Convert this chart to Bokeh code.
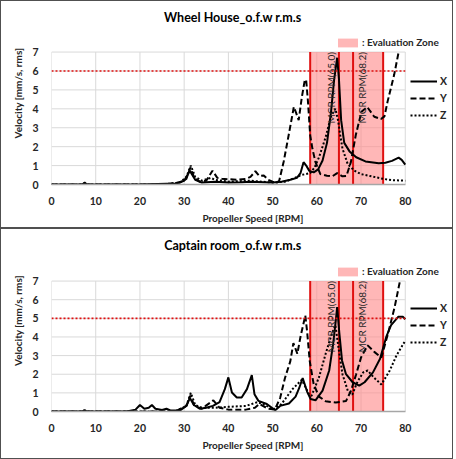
from bokeh.plotting import figure
from bokeh.models import Range1d, Label, Legend, LegendItem, FixedTicker
from bokeh.layouts import column
from bokeh.embed import file_html
from bokeh.resources import INLINE

# ---------------- data ----------------
RPM_TICKS = [0, 10, 20, 30, 40, 50, 60, 70, 80]
VEL_TICKS = [0, 1, 2, 3, 4, 5, 6, 7]
ZONE = [58.5, 75.0]
MCR = [65.0, 68.2]
MCR_LABELS = ["MCR RPM(65.0)", "MCR RPM(68.2)"]
TITLES = ["Wheel House_o.f.w r.m.s", "Captain room_o.f.w r.m.s"]
LIMITS = [6.0, 5.0]
SERIES = ["X", "Y", "Z"]
ZONE_LABEL = ": Evaluation Zone"

# Wheel House
wh_x_rpm = [0, 7, 7.5, 8, 20, 28, 30, 31.3, 32.5, 34, 37, 40, 43, 45, 48, 50, 52, 54, 55.5, 56.3,
            57, 57.6, 58.3, 59.3, 60.3, 61.3, 62.3, 63.2, 63.9, 64.6, 65.0, 65.5, 66.2, 67.4, 68.9,
            71, 74, 75.5, 77, 78.5, 79.2, 80]
wh_x_vel = [0, 0, 0.1, 0, 0, 0.05, 0.2, 0.72, 0.25, 0.1, 0.15, 0.1, 0.12, 0.15, 0.12, 0.1, 0.15, 0.25, 0.35, 0.6,
            1.18, 1.0, 0.72, 0.64, 0.8, 1.27, 2.2, 3.8, 5.5, 6.7, 5.6, 3.4, 2.2, 1.75, 1.44,
            1.22, 1.12, 1.15, 1.25, 1.42, 1.3, 1.05]
wh_y_rpm = [0, 7, 7.5, 8, 25, 29, 30.5, 31.4, 32.3, 33.5, 35, 36.4, 37.5, 38.5, 40, 42, 44, 45, 46.1, 47,
            48, 49, 50, 51, 51.5, 52.5, 53.7, 54.8, 55.3, 55.9, 56.6, 57.3, 57.6, 58, 58.5, 59, 59.7,
            60.8, 62.3, 63.5, 64.6, 65.8, 66.7, 67.7, 68.8, 70.1, 71.4, 72, 73, 74.5, 75.3, 76, 77.5,
            78.5]
wh_y_vel = [0, 0, 0.08, 0, 0, 0.1, 0.3, 0.9, 0.35, 0.15, 0.2, 0.73, 0.35, 0.3, 0.28, 0.25, 0.3, 0.4, 0.7, 0.45,
            0.48, 0.25, 0.15, 0.1, 0.2, 1.2, 2.69, 4.1, 3.8, 3.4, 4.6, 5.54, 5.5, 4.38, 2.6, 1.9, 1.18,
            0.55, 0.46, 0.43, 0.6, 0.43, 0.45, 1.18, 2.6, 3.85, 4.1, 3.9, 3.58, 3.46, 3.6, 4.38, 5.81,
            7.0]
wh_z_rpm = [0, 25, 29, 30.5, 31.5, 32.5, 34, 36, 37, 40, 45, 50, 53, 55, 56.5, 57.4, 58.5, 59.5, 60.5,
            62, 63.2, 64.2, 64.8, 65.3, 65.8, 67, 68.5, 70, 72, 75, 77, 80]
wh_z_vel = [0, 0, 0.1, 0.4, 1.0, 0.4, 0.2, 0.35, 0.25, 0.15, 0.2, 0.1, 0.15, 0.35, 0.5, 0.55, 0.6, 0.9, 1.44,
            2.5, 3.6, 4.0, 3.4, 2.6, 1.9, 1.07, 0.73, 0.55, 0.45, 0.3, 0.23, 0.2]

# Captain room
cr_x_rpm = [0, 7, 7.5, 8, 17, 19, 20, 21, 22, 22.7, 23.5, 25, 26, 27, 29, 30.5, 31.3, 32.2, 33.5, 35,
            36.5, 38, 39.2, 40, 40.8, 41.9, 43, 44.2, 45.3, 45.9, 46.8, 48.7, 50.6, 51.7, 53.7, 55.2,
            56, 56.8, 57.8, 58.6, 59.7, 61.3, 62.8, 63.7, 64.3, 64.6, 65.1, 65.7, 66.6, 68.1, 69.6,
            70.8, 72.7, 74.3, 75.7, 76.8, 78.4, 79.5, 80]
cr_x_vel = [0, 0, 0.08, 0, 0, 0.1, 0.35, 0.15, 0.2, 0.35, 0.15, 0.08, 0.15, 0.05, 0.05, 0.3, 0.72, 0.35, 0.15, 0.2,
            0.3, 0.5, 1.2, 1.83, 1.02, 0.75, 0.75, 1.2, 1.95, 0.93, 0.57, 0.4, 0.07, 0.3, 0.43, 0.8,
            1.25, 1.8, 1.07, 0.67, 0.6, 1.12, 2.2, 3.64, 4.9, 5.6, 4.2, 2.74, 2.0, 1.57, 1.39,
            1.57, 2.1, 2.83, 4.0, 4.63, 5.08, 5.08, 4.95]
cr_y_rpm = [0, 7, 7.5, 8, 28, 30.5, 31.4, 32.3, 34, 36.6, 38, 40, 44, 46, 47, 49, 50.5, 51.7, 52.8, 54,
            54.7, 55.6, 56.3, 57.4, 57.8, 58.4, 59.3, 60.5, 62, 64.3, 66.6, 67.7, 68.9, 70, 71.5, 73,
            74.6, 76.1, 77.6, 78.8]
cr_y_vel = [0, 0, 0.08, 0, 0, 0.3, 0.85, 0.3, 0.15, 0.6, 0.2, 0.1, 0.1, 0.2, 0.4, 0.15, 0.1, 0.72, 1.8, 2.69,
            3.67, 3.1, 4.0, 5.15, 4.3, 2.7, 1.45, 0.8, 0.55, 0.48, 0.56, 1.1, 2.0, 2.9, 3.55, 3.2,
            2.9, 4.18, 5.6, 7.0]
cr_z_rpm = [0, 28, 30.5, 31.5, 32.5, 34, 37, 40, 44, 46.5, 48, 50, 52, 54.5, 56.6, 58.2, 58.8, 60.5, 62,
            63.4, 64.2, 65.1, 65.8, 67, 68, 69.2, 70.5, 71.5, 73, 74.6, 76.5, 78, 80]
cr_z_vel = [0, 0, 0.3, 1.0, 0.35, 0.2, 0.2, 0.25, 0.3, 0.5, 0.4, 0.1, 0.4, 1.2, 1.7, 0.94, 0.84, 1.84, 3.1,
            4.18, 4.63, 3.1, 2.0, 1.12, 0.9, 1.6, 2.1, 2.2, 1.8, 1.45, 2.2, 3.0, 3.8]

FONT = "Lato"
DASHES = ["solid", "6 3", "2 2"]
RED = "#e01010"
PINK = "#ff8a8a"
GRID = "#d9d9d9"
TXT = "#262626"

# layout constants (pixels)
PLOT_W = 352          # width of the 0..80 rpm area
EXTRA_R = 49          # room for the X/Y/Z legend on the right
LEFT = 50


def make_panel(title, limit, curves, frame_h, extra_top, bottom, title_px):
    x0, x1 = RPM_TICKS[0], RPM_TICKS[-1]
    y0, y1 = VEL_TICKS[0], VEL_TICKS[-1]
    px_x = PLOT_W / (x1 - x0)
    px_y = frame_h / (y1 - y0)
    p = figure(frame_width=PLOT_W + EXTRA_R, frame_height=frame_h + extra_top,
               min_border_left=LEFT, min_border_right=0,
               min_border_top=0, min_border_bottom=bottom,
               x_range=Range1d(x0, x1 + EXTRA_R / px_x),
               y_range=Range1d(y0, y1 + extra_top / px_y),
               output_backend="svg", toolbar_location=None)
    p.outline_line_color = None
    p.background_fill_color = "white"
    p.border_fill_color = "white"
    p.styles = {"border": "1px solid #505050"}
    p.grid.visible = False

    p.xaxis.ticker = FixedTicker(ticks=RPM_TICKS)
    p.yaxis.ticker = FixedTicker(ticks=VEL_TICKS)
    p.xaxis.bounds = (x0, x1)
    p.yaxis.bounds = (y0, y1)
    p.xaxis.axis_label = "Propeller Speed [RPM]"
    p.yaxis.axis_label = "Velocity [mm/s, rms]"
    for ax in (p.xaxis[0], p.yaxis[0]):
        ax.major_tick_line_color = None
        ax.minor_tick_line_color = None
        ax.major_label_text_font = FONT
        ax.major_label_text_font_style = "bold"
        ax.major_label_text_font_size = "10.5px"
        ax.major_label_text_color = TXT
        ax.axis_label_text_font = FONT
        ax.axis_label_text_font_style = "bold"
        ax.axis_label_text_font_size = "10px"
        ax.axis_label_text_color = TXT
    p.xaxis.axis_line_color = "#a6a6a6"
    p.xaxis.axis_line_width = 1.5
    p.yaxis.axis_line_color = None
    p.xaxis.major_label_standoff = 6
    p.xaxis.axis_label_standoff = 4
    p.yaxis.major_label_standoff = 7
    p.yaxis.axis_label_standoff = 5

    # grid lines limited to the data area
    p.segment(x0=RPM_TICKS, y0=[y0] * len(RPM_TICKS), x1=RPM_TICKS, y1=[y1] * len(RPM_TICKS),
              line_color=GRID, line_width=1)
    p.segment(x0=[x0] * len(VEL_TICKS), y0=VEL_TICKS, x1=[x1] * len(VEL_TICKS), y1=VEL_TICKS,
              line_color=GRID, line_width=1)

    # evaluation zone
    zone = p.quad(left=[ZONE[0]], right=[ZONE[1]], bottom=[y0], top=[y1],
                  fill_color=PINK, fill_alpha=0.62, line_color=None)
    marks = ZONE + MCR
    p.segment(x0=marks, y0=[y0] * 4, x1=marks, y1=[y1] * 4, line_color=RED, line_width=2)

    # curves
    rends = []
    for (xs, ys), dash in zip(curves, DASHES):
        r = p.line(xs, ys, line_color="black", line_width=2.0, line_dash=dash)
        rends.append(r)

    # limit line
    p.segment(x0=[x0], y0=[limit], x1=[x1], y1=[limit], line_color=RED,
              line_width=1.6, line_dash="2 2")

    # MCR labels (rotated, reading upwards, ending at the top of the data area)
    p.add_layout(Label(x=MCR[0] - 0.4, y=y1, text=MCR_LABELS[0], angle=1.5708,
                       text_align="right", text_baseline="bottom", text_font=FONT,
                       text_font_size="10px", text_color=TXT))
    p.add_layout(Label(x=MCR[1] + 0.65, y=y1, text=MCR_LABELS[1], angle=1.5708,
                       text_align="right", text_baseline="top", text_font=FONT,
                       text_font_size="10px", text_color=TXT))

    # title
    p.add_layout(Label(x=41, y=y1 + title_px / px_y, text=title,
                       text_align="center", text_baseline="middle", text_font=FONT,
                       text_font_style="bold", text_font_size="12.5px", text_color="black"))

    # legends
    leg = Legend(items=[LegendItem(label=s, renderers=[r]) for s, r in zip(SERIES, rends)],
                 location=(PLOT_W + 7, 63), orientation="vertical",
                 glyph_width=27, glyph_height=12, label_height=12, label_width=0,
                 label_standoff=3, spacing=5, padding=0, margin=0, border_line_color=None,
                 background_fill_alpha=0, label_text_font=FONT, label_text_font_style="bold",
                 label_text_font_size="10.5px", label_text_color=TXT)
    p.add_layout(leg)
    zleg = Legend(items=[LegendItem(label=ZONE_LABEL, renderers=[zone])],
                  location=(284, frame_h + 5), glyph_width=25, glyph_height=11,
                  label_height=11, label_width=0, label_standoff=2, padding=0, margin=0,
                  border_line_color=None, background_fill_alpha=0, label_text_font=FONT,
                  label_text_font_style="bold", label_text_font_size="10px",
                  label_text_color=TXT)
    p.add_layout(zleg)
    return p


p1 = make_panel(TITLES[0], LIMITS[0],
                [(wh_x_rpm, wh_x_vel), (wh_y_rpm, wh_y_vel), (wh_z_rpm, wh_z_vel)],
                131, 50, 45, 34)
p2 = make_panel(TITLES[1], LIMITS[1],
                [(cr_x_rpm, cr_x_vel), (cr_y_rpm, cr_y_vel), (cr_z_rpm, cr_z_vel)],
                129, 51, 49, 35)

layout = column(p1, p2, spacing=0)
open("out.html", "w").write(file_html(layout, INLINE))
